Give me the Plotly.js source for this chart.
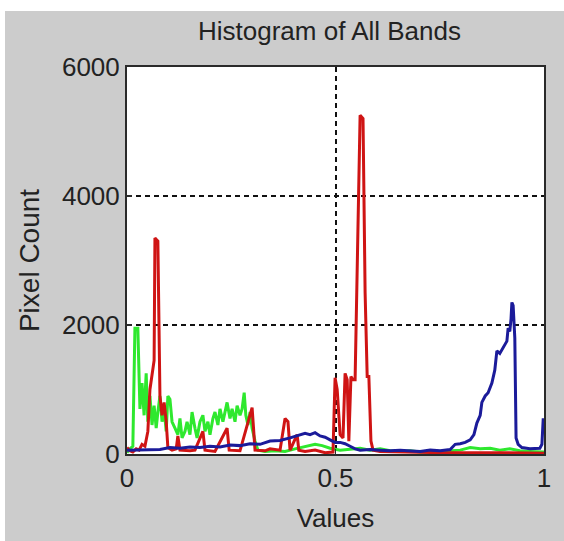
<!DOCTYPE html>
<html>
<head>
<meta charset="utf-8">
<script src="https://cdn.plot.ly/plotly-3.0.1.min.js"></script>
<style>
html,body{margin:0;padding:0;background:#ffffff;width:564px;height:541px;overflow:hidden;}
#chart{position:absolute;left:5px;top:11px;width:559px;height:530px;}
</style>
</head>
<body>
<div id="chart"></div>
<script>
// ---- data ----
const greenX = [0.000,0.007,0.014,0.019,0.026,0.031,0.036,0.041,0.046,0.050,
                0.055,0.060,0.065,0.070,0.074,0.079,0.084,0.089,0.094,0.098,
                0.103,0.108,0.115,0.122,0.127,0.132,0.139,0.144,0.151,0.156,
                0.163,0.168,0.175,0.182,0.187,0.194,0.199,0.206,0.211,0.218,
                0.223,0.230,0.235,0.240,0.247,0.252,0.259,0.264,0.271,0.276,
                0.281,0.285,0.290,0.295,0.300,0.307,0.314,0.331,0.355,0.379,
                0.403,0.427,0.451,0.468,0.487,0.511,0.535,0.559,0.583,0.607,
                0.631,0.655,0.679,0.703,0.751,0.799,0.823,0.847,0.871,0.894,
                0.918,0.942,0.966,1.000];
const greenY = [20,80,120,1950,1950,700,1100,600,1250,500,
                900,450,750,400,650,900,500,700,350,900,
                850,500,400,300,550,250,350,500,300,650,
                400,250,500,600,350,500,300,550,650,450,
                700,500,650,800,550,700,500,750,600,700,
                950,600,450,650,400,200,60,40,50,40,
                80,120,150,130,90,60,80,90,60,80,
                50,40,50,30,40,60,100,80,90,60,
                80,50,40,30];

const redX = [0.000,0.007,0.014,0.022,0.029,0.036,0.043,0.050,0.055,0.060,
              0.065,0.067,0.074,0.079,0.084,0.089,0.094,0.098,0.108,0.118,
              0.122,0.127,0.151,0.163,0.182,0.187,0.211,0.240,0.245,0.271,
              0.300,0.307,0.331,0.343,0.367,0.379,0.386,0.391,0.408,0.412,
              0.427,0.451,0.475,0.494,0.499,0.504,0.511,0.518,0.523,0.528,
              0.532,0.537,0.542,0.547,0.552,0.559,0.566,0.571,0.576,0.580,
              0.585,0.590,0.607,0.655,0.751,0.894,1.000];
const redY = [100,50,30,80,60,150,120,350,1000,1200,
              1450,3350,3300,900,600,800,500,100,60,80,
              280,60,50,60,350,60,40,400,60,50,
              720,60,50,80,60,550,500,60,300,60,
              40,60,20,30,1180,1000,300,250,1250,1150,
              200,1200,1150,1150,2800,5250,5200,2500,1200,1200,
              200,60,40,30,20,20,10];

const blueX = [0.000,0.055,0.079,0.103,0.127,0.151,0.175,0.199,0.223,0.247,
               0.271,0.295,0.319,0.343,0.367,0.391,0.415,0.427,0.439,0.451,
               0.463,0.475,0.487,0.499,0.511,0.523,0.535,0.547,0.559,0.583,
               0.607,0.631,0.655,0.679,0.703,0.727,0.751,0.775,0.787,0.799,
               0.811,0.823,0.832,0.839,0.847,0.851,0.859,0.866,0.875,0.882,
               0.887,0.894,0.902,0.906,0.911,0.914,0.918,0.921,0.923,0.926,
               0.928,0.930,0.933,0.938,0.947,0.966,0.990,0.995,0.998,1.000];
const blueY = [60,60,70,100,90,110,100,120,110,140,
               130,160,150,200,210,250,300,320,300,330,
               280,260,220,180,180,160,120,80,60,70,
               60,50,60,50,40,60,50,70,150,160,
               180,220,300,480,600,800,900,950,1100,1300,
               1600,1560,1650,1700,1750,1950,1900,2100,2350,2300,
               1900,1800,250,150,100,80,90,150,530,530];

const xTicks = [0, 0.5, 1];
const xTickText = ['0', '0.5', '1'];
const yTicks = [0, 2000, 4000, 6000];
const yTickText = ['0', '2000', '4000', '6000'];

const FONT = 'Liberation Sans, Arial, Helvetica, sans-serif';

const traces = [
  {x: greenX, y: greenY, type: 'scatter', mode: 'lines', line: {color: '#2ee82e', width: 3}, hoverinfo: 'skip'},
  {x: redX, y: redY, type: 'scatter', mode: 'lines', line: {color: '#cf1414', width: 3}, hoverinfo: 'skip'},
  {x: blueX, y: blueY, type: 'scatter', mode: 'lines', line: {color: '#1b1b9a', width: 3}, hoverinfo: 'skip'}
];

const axisCommon = {
  showline: true, linecolor: '#2a2a2a', linewidth: 2, mirror: true,
  ticks: 'inside', ticklen: 5, tickwidth: 1.5, tickcolor: '#2a2a2a',
  showgrid: true, gridcolor: '#111111', gridwidth: 2, griddash: '5px,4px',
  zeroline: false, tickfont: {family: FONT, size: 26, color: '#222222'},
  fixedrange: true
};

const layout = {
  width: 559, height: 530,
  paper_bgcolor: '#cccccc', plot_bgcolor: '#ffffff',
  margin: {l: 122, r: 20, t: 56, b: 87},
  showlegend: false,
  title: {text: 'Histogram of All Bands', font: {family: FONT, size: 26, color: '#222222'},
          x: 0.5805, xanchor: 'center', xref: 'container', y: 0.962, yanchor: 'middle', yref: 'container'},
  xaxis: Object.assign({}, axisCommon, {
    range: [0, 1], tickmode: 'array', tickvals: xTicks, ticktext: xTickText,
    title: {text: 'Values', font: {family: FONT, size: 26, color: '#222222'}, standoff: 17}
  }),
  yaxis: Object.assign({}, axisCommon, {
    range: [0, 6000], tickmode: 'array', tickvals: yTicks, ticktext: yTickText,
    title: {text: 'Pixel Count', font: {family: FONT, size: 28, color: '#222222'}, standoff: 14}
  })
};

Plotly.newPlot('chart', traces, layout, {displayModeBar: false, staticPlot: true});
</script>
</body>
</html>
